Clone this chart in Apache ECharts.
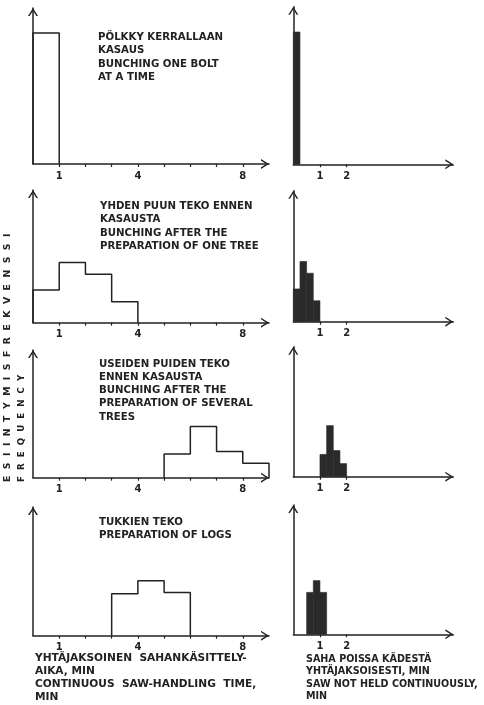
<!DOCTYPE html>
<html><head><meta charset="utf-8">
<script src="https://cdn.jsdelivr.net/npm/echarts@6/dist/echarts.min.js"></script>
<style>html,body{margin:0;padding:0;background:#fff}#c{width:484px;height:705px}</style>
</head><body><div id="c"></div>
<script>
// ---- data: left column, continuous saw-handling time (min), 1-min classes
const leftEdges1 = [0, 1];
const leftFreq1 = [100];
const leftEdges2 = [0, 1, 2, 3, 4];
const leftFreq2 = [25, 46, 37, 16];
const leftEdges3 = [5, 6, 7, 8, 9];
const leftFreq3 = [18, 39, 20, 11];
const leftEdges4 = [3, 4, 5, 6];
const leftFreq4 = [32, 42, 33];
// ---- data: right column, saw not held continuously (min), 0.25-min classes
const rightEdges1 = [0, 0.25];
const rightFreq1 = [101];
const rightEdges2 = [0, 0.25, 0.5, 0.75, 1];
const rightFreq2 = [25, 46, 37, 16];
const rightEdges3 = [1, 1.25, 1.5, 1.75, 2];
const rightFreq3 = [17, 39, 20, 10];
const rightEdges4 = [0.5, 0.75, 1, 1.25];
const rightFreq4 = [32, 41, 32];
// ---- ticks
const leftTickValues = [1, 2, 3, 4, 5, 6, 7, 8];
const leftTickLabels = [1, 4, 8];
const rightTickValues = [1, 2];
const rightTickLabels = [1, 2];
// ---- texts
const panelTitles = [
  'PÖLKKY KERRALLAAN\nKASAUS\nBUNCHING ONE BOLT\nAT A TIME',
  'YHDEN PUUN TEKO ENNEN\nKASAUSTA\nBUNCHING AFTER THE\nPREPARATION OF ONE TREE',
  'USEIDEN PUIDEN TEKO\nENNEN KASAUSTA\nBUNCHING AFTER THE\nPREPARATION OF SEVERAL\nTREES',
  'TUKKIEN TEKO\nPREPARATION OF LOGS'
];
const leftXTitle = 'YHTÄJAKSOINEN  SAHANKÄSITTELY-\nAIKA, MIN\nCONTINUOUS  SAW-HANDLING  TIME,\nMIN';
const rightXTitle = 'SAHA POISSA KÄDESTÄ\nYHTÄJAKSOISESTI, MIN\nSAW NOT HELD CONTINUOUSLY,\nMIN';
const yTitleFi = 'ESIINTYMISFREKVENSSI';
const yTitleEn = 'FREQUENCY';

const leftSets = [[leftEdges1, leftFreq1], [leftEdges2, leftFreq2], [leftEdges3, leftFreq3], [leftEdges4, leftFreq4]];
const rightSets = [[rightEdges1, rightFreq1], [rightEdges2, rightFreq2], [rightEdges3, rightFreq3], [rightEdges4, rightFreq4]];

// ---- layout / style
const INK = '#222';
const leftTop = [8, 190, 350, 507];
const leftBase = [164, 322.7, 477.7, 635.7];
const rightTop = [6.7, 190.7, 346.7, 505];
const rightBase = [164.3, 321.7, 476.7, 634.3];
const PX_PER_UNIT = 1.31;
const FONT = 'DejaVu Sans';
const CHEV = 'path://M0,8L5,0L10,8L8.35,8L5,2.64L1.65,8Z';

const grids = [], xAxes = [], yAxes = [], series = [];

function axisLine() {
  return { show: true, lineStyle: { color: INK, width: 1.5 }, symbol: ['none', CHEV], symbolSize: [10, 8], symbolOffset: [0, -4] };
}

function addPanel(idx, left, width, xmax, top, base, tickVals, tickLabs, kind, edges, freq) {
  grids.push({ left: left, width: width, top: top, height: base - top, outerBoundsMode: 'none' });
  xAxes.push({
    type: 'value', gridIndex: idx, min: 0, max: xmax,
    axisLine: axisLine(),
    axisTick: { show: true, customValues: tickVals, length: 3, lineStyle: { color: INK, width: 1.2 } },
    axisLabel: { show: true, customValues: tickLabs, margin: 7, color: INK, fontSize: 10, fontWeight: 'bold', fontFamily: FONT },
    splitLine: { show: false }
  });
  yAxes.push({
    type: 'value', gridIndex: idx, min: 0, max: (base - top) / PX_PER_UNIT,
    axisLine: axisLine(), axisTick: { show: false }, axisLabel: { show: false }, splitLine: { show: false }
  });
  if (kind === 'outline') {
    const d = [[edges[0], 0]];
    freq.forEach((f, i) => d.push([edges[i], f]));
    d.push([edges[edges.length - 1], 0]);
    series.push({
      type: 'line', step: 'end', xAxisIndex: idx, yAxisIndex: idx, data: d,
      showSymbol: false, silent: true, animation: false,
      lineStyle: { color: INK, width: 1.5 }
    });
  } else {
    const d = freq.map((f, i) => [edges[i], edges[i + 1], f]);
    series.push({
      type: 'custom', xAxisIndex: idx, yAxisIndex: idx, data: d, silent: true, animation: false,
      encode: { x: [0, 1], y: 2 },
      renderItem: function (params, api) {
        const p0 = api.coord([api.value(0), api.value(2)]);
        const p1 = api.coord([api.value(1), 0]);
        return { type: 'rect', shape: { x: p0[0], y: p0[1], width: p1[0] - p0[0], height: p1[1] - p0[1] },
                 style: { fill: '#2a2a2a', stroke: '#2a2a2a', lineWidth: 0.6 } };
      }
    });
  }
}

for (let i = 0; i < 4; i++) {
  addPanel(i, 33, 236, 9, leftTop[i], leftBase[i], leftTickValues, leftTickLabels, 'outline', leftSets[i][0], leftSets[i][1]);
}
for (let i = 0; i < 4; i++) {
  addPanel(4 + i, 293.3, 160, 6, rightTop[i], rightBase[i], rightTickValues, rightTickLabels, 'filled', rightSets[i][0], rightSets[i][1]);
}

const titleTops = [31, 200, 357.5, 516];
const titleLefts = [98, 100, 99, 99];
const txt = (x, y, text, size, lh, extra) => Object.assign({
  type: 'text', x: x, y: y, silent: true,
  style: { text: text, fill: INK, fontSize: size, fontWeight: 'bold', fontFamily: FONT, lineHeight: lh, align: 'left', verticalAlign: 'top' }
}, extra || {});

const graphics = [];
panelTitles.forEach((t, i) => graphics.push(txt(titleLefts[i], titleTops[i], t, 10.2, 13.2)));
graphics.push(txt(35, 652, leftXTitle, 10.6, 12.8));
graphics.push(txt(306, 653, rightXTitle, 9.6, 12.5));
graphics.push({ type: 'text', x: 8, y: 482, rotation: Math.PI / 2, silent: true,
  style: { text: yTitleFi.split('').join('  '), fill: INK, fontSize: 9.3, fontWeight: 'bold', fontFamily: FONT, align: 'left', verticalAlign: 'middle' } });
graphics.push({ type: 'text', x: 22, y: 482, rotation: Math.PI / 2, silent: true,
  style: { text: yTitleEn.split('').join('  '), fill: INK, fontSize: 8.7, fontWeight: 'bold', fontFamily: FONT, align: 'left', verticalAlign: 'middle' } });

const chart = echarts.init(document.getElementById('c'), null, { renderer: 'canvas' });
chart.setOption({
  backgroundColor: '#fff',
  animation: false,
  grid: grids, xAxis: xAxes, yAxis: yAxes, series: series,
  graphic: graphics
});
</script></body></html>
